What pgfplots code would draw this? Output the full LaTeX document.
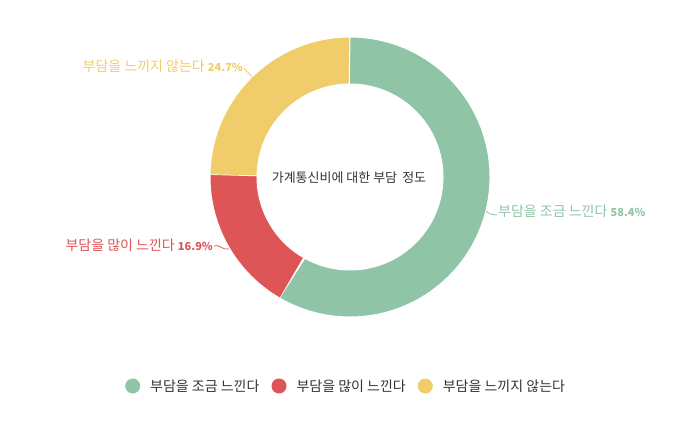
\documentclass[border=0pt]{standalone}
\usepackage{pgfplots}
\pgfplotsset{compat=1.18}
\usepackage{pgfplotstable}
\usepackage{fontspec}
\setmainfont{Noto Sans CJK KR}
\definecolor{cG}{HTML}{8FC4A7}
\definecolor{cR}{HTML}{DE5557}
\definecolor{cY}{HTML}{F0CC6A}
\definecolor{txt}{HTML}{333333}

\pgfplotstableread{
label value
a 58.4
b 16.9
c 24.7
}\datatable
\pgfplotstablegetelem{0}{value}\of\datatable \let\vA\pgfplotsretval
\pgfplotstablegetelem{1}{value}\of\datatable \let\vB\pgfplotsretval
\pgfplotstablegetelem{2}{value}\of\datatable \let\vC\pgfplotsretval
\pgfmathsetmacro\aA{0}
\pgfmathsetmacro\aB{3.6*\vA}
\pgfmathsetmacro\aC{\aB+3.6*\vB}
\pgfmathsetmacro\aD{\aC+3.6*\vC}
\def\cx{350}\def\cy{-177}\def\Ro{140}\def\Ri{93}
\def\lab{\fontsize{14}{16}\selectfont}
\def\pct#1{{\fontsize{11}{13}\selectfont\bfseries #1}}

\begin{document}%
\begin{tikzpicture}
\begin{axis}[
  scale only axis, width=700pt, height=420pt,
  xmin=0, xmax=700, ymin=-420, ymax=0,
  hide axis, clip=false,
  legend columns=3,
  legend style={draw=none, inner sep=0pt, font=\lab\color{txt},
    at={(125/700,34/420)}, anchor=west,
    nodes={inner sep=0pt, anchor=west},
    /tikz/every odd column/.append style={column sep=10pt},
    /tikz/every even column/.append style={column sep=12pt}},
]
\coordinate (BL) at (axis cs:0,-420);
\coordinate (TR) at (axis cs:700,0);
% donut slices
\addplot[forget plot, fill=cG, draw=white, line width=1pt, domain=0:2, samples=361, variable=\t]
  ({\cx + (\Ro-(\Ro-\Ri)*(\t>1))*sin(\aA+(\aB-\aA)*min(\t,2-\t))},
   {\cy + (\Ro-(\Ro-\Ri)*(\t>1))*cos(\aA+(\aB-\aA)*min(\t,2-\t))});
\addplot[forget plot, fill=cR, draw=white, line width=1pt, domain=0:2, samples=361, variable=\t]
  ({\cx + (\Ro-(\Ro-\Ri)*(\t>1))*sin(\aB+(\aC-\aB)*min(\t,2-\t))},
   {\cy + (\Ro-(\Ro-\Ri)*(\t>1))*cos(\aB+(\aC-\aB)*min(\t,2-\t))});
\addplot[forget plot, fill=cY, draw=white, line width=1pt, domain=0:2, samples=361, variable=\t]
  ({\cx + (\Ro-(\Ro-\Ri)*(\t>1))*sin(\aC+(\aD-\aC)*min(\t,2-\t))},
   {\cy + (\Ro-(\Ro-\Ri)*(\t>1))*cos(\aC+(\aD-\aC)*min(\t,2-\t))});

\addlegendimage{legend image code/.code={\path[fill=cG,draw=none] (7.5pt,0pt) circle (7.5pt);}}
\addlegendentry{부담을 조금 느낀다}
\addlegendimage{legend image code/.code={\path[fill=cR,draw=none] (7.5pt,0pt) circle (7.5pt);}}
\addlegendentry{부담을 많이 느낀다}
\addlegendimage{legend image code/.code={\path[fill=cY,draw=none] (7.5pt,0pt) circle (7.5pt);}}
\addlegendentry{부담을 느끼지 않는다}

% center title
\node[font=\fontsize{13}{15}\selectfont, text=txt] at (axis cs:349,-178) {가계통신비에 대한 부담\, 정도};

% connectors
\draw[cG, line width=0.8pt] (axis cs:486,-211) .. controls (axis cs:489,-214) .. (axis cs:497,-215);
\draw[cR, line width=0.8pt] (axis cs:214,-246) .. controls (axis cs:220,-244) and (axis cs:221,-250) .. (axis cs:229,-249);
\draw[cY, line width=0.8pt] (axis cs:244,-68) -- (axis cs:252,-77);

% data labels
\node[anchor=west, inner sep=0pt, text=cG, font=\lab] at (axis cs:498,-211) {부담을 조금 느낀다 \pct{58.4\%}};
\node[anchor=east, inner sep=0pt, text=cR, font=\lab] at (axis cs:213,-245.5) {부담을 많이 느낀다 \pct{16.9\%}};
\node[anchor=east, inner sep=0pt, text=cY, font=\lab] at (axis cs:243,-66) {부담을 느끼지 않는다 \pct{24.7\%}};
\end{axis}
\pgfresetboundingbox
\useasboundingbox (BL) rectangle (TR);
\end{tikzpicture}%
\end{document}
